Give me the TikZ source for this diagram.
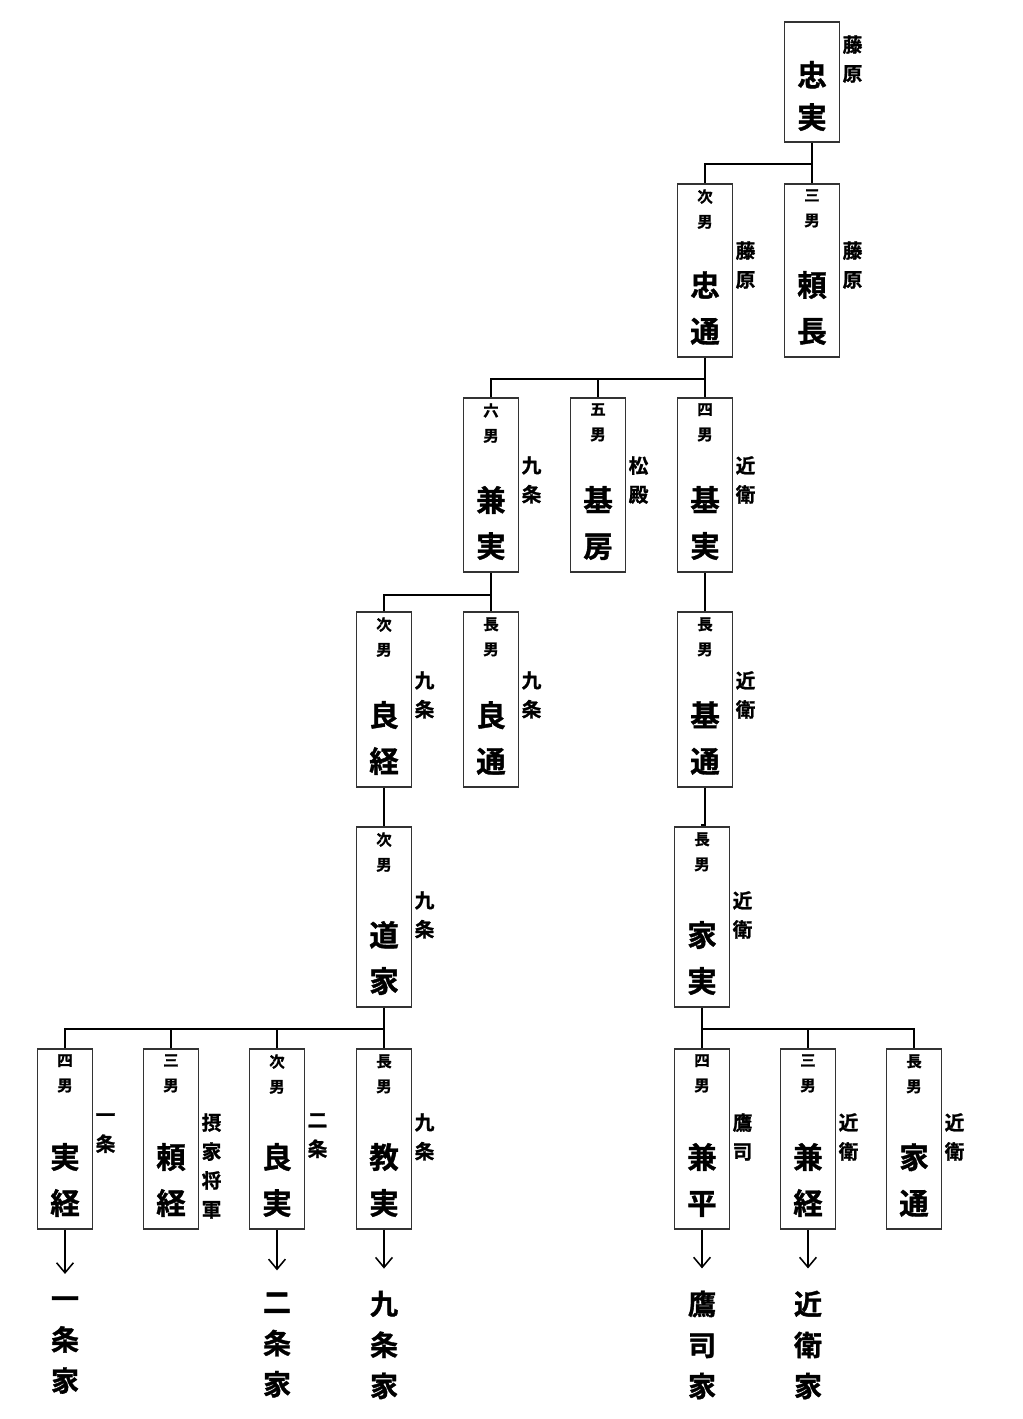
\documentclass[tikz,border=0pt]{standalone}
\usepackage{fontspec}
\setmainfont{Noto Sans CJK JP}[BoldFont={Noto Sans CJK JP Bold},BoldFeatures={FakeBold=1.2}]
\usetikzlibrary{arrows.meta}
\tikzset{
  hako/.style={draw=black!80,line width=1.3pt,minimum width=1.375cm,inner sep=0pt},
  sen/.style={line width=1pt},
  ya/.style={line width=1.1pt,-{Straight Barb[length=0.25cm,width=0.42cm]},shorten >=0.55cm},
  jun/.style={font=\fontsize{11pt}{17.8pt}\selectfont\bfseries,align=center,inner sep=0pt},
  mei/.style={font=\fontsize{21pt}{32.7pt}\selectfont\bfseries,align=center,inner sep=0pt},
  uji/.style={font=\fontsize{14pt}{20.6pt}\selectfont\bfseries,align=center,inner sep=0pt},
  ie/.style={font=\fontsize{20pt}{29.2pt}\selectfont\bfseries,align=center,inner sep=0pt}
}
% #1 node, #2 centre x, #3 top, #4 bottom, #5 order, #6 name, #7 house
\newcommand\hito[7]{%
  \node[hako,minimum height={(#4-#3)*0.025cm}] (#1) at (#2,{(#3+#4)/2}) {};
  \node[jun,anchor=north] at (#2,#3+5) {#5};
  \node[mei] at (#2,#4-49) {#6};
  \node[uji,anchor=north] at (#2+40.5,#4-116) {#7};
}
\begin{document}
\begin{tikzpicture}[x=0.025cm,y=-0.025cm]
\useasboundingbox (0,0) rectangle (1023,1419);
\node[hako,minimum height=3cm] (tadazane) at (812,82) {};
\node[mei,font=\fontsize{21pt}{30pt}\selectfont\bfseries] at (812,96) {忠\\実};
\node[uji,anchor=north] at (852.5,35) {藤\\原};
\hito{tadamichi}{705}{184}{357}{次\\男}{忠\\通}{藤\\原}
\hito{yorinaga}{812}{184}{357}{三\\男}{頼\\長}{藤\\原}
\hito{kanezane}{491}{398}{572}{六\\男}{兼\\実}{九\\条}
\hito{motofusa}{598}{398}{572}{五\\男}{基\\房}{松\\殿}
\hito{motozane}{705}{398}{572}{四\\男}{基\\実}{近\\衛}
\hito{yoshitsune}{384}{612}{787}{次\\男}{良\\経}{九\\条}
\hito{yoshimichi}{491}{612}{787}{長\\男}{良\\通}{九\\条}
\hito{motomichi}{705}{612}{787}{長\\男}{基\\通}{近\\衛}
\hito{michiie}{384}{827}{1007}{次\\男}{道\\家}{九\\条}
\hito{iezane}{702}{827}{1007}{長\\男}{家\\実}{近\\衛}
\hito{sanetsune}{65}{1049}{1229}{四\\男}{実\\経}{一\\条}
\hito{yoritsune}{171}{1049}{1229}{三\\男}{頼\\経}{摂\\家\\将\\軍}
\hito{yoshizane}{277}{1049}{1229}{次\\男}{良\\実}{二\\条}
\hito{norizane}{384}{1049}{1229}{長\\男}{教\\実}{九\\条}
\hito{kanehira}{702}{1049}{1229}{四\\男}{兼\\平}{鷹\\司}
\hito{kanetsune}{808}{1049}{1229}{三\\男}{兼\\経}{近\\衛}
\hito{iemichi}{914}{1049}{1229}{長\\男}{家\\通}{近\\衛}
\node[ie] (ichijo) at (65,1345) {一\\条\\家};
\node[ie] (nijo) at (277,1345) {二\\条\\家};
\node[ie] (kujo) at (384,1345) {九\\条\\家};
\node[ie] (takatsukasa) at (702,1345) {鷹\\司\\家};
\node[ie] (konoe) at (808,1345) {近\\衛\\家};
\foreach \c in {tadamichi,yorinaga} \draw[sen] (tadazane.south) -- ++(0,21) -| (\c.north);
\foreach \c in {kanezane,motofusa,motozane} \draw[sen] (tadamichi.south) -- ++(0,21) -| (\c.north);
\foreach \c in {yoshitsune,yoshimichi} \draw[sen] (kanezane.south) -- ++(0,22) -| (\c.north);
\draw[sen] (motozane) -- (motomichi);
\draw[sen] (yoshitsune) -- (michiie);
\draw[sen] (motomichi.south) -- ++(0,37) -| (iezane.north);
\foreach \c in {sanetsune,yoritsune,yoshizane,norizane} \draw[sen] (michiie.south) -- ++(0,21) -| (\c.north);
\foreach \c in {kanehira,kanetsune,iemichi} \draw[sen] (iezane.south) -- ++(0,21) -| (\c.north);
\foreach \a/\b in {sanetsune/ichijo,yoshizane/nijo,norizane/kujo,kanehira/takatsukasa,kanetsune/konoe}
  \draw[ya] (\a.south) -- (\b.north);
\end{tikzpicture}
\end{document}
